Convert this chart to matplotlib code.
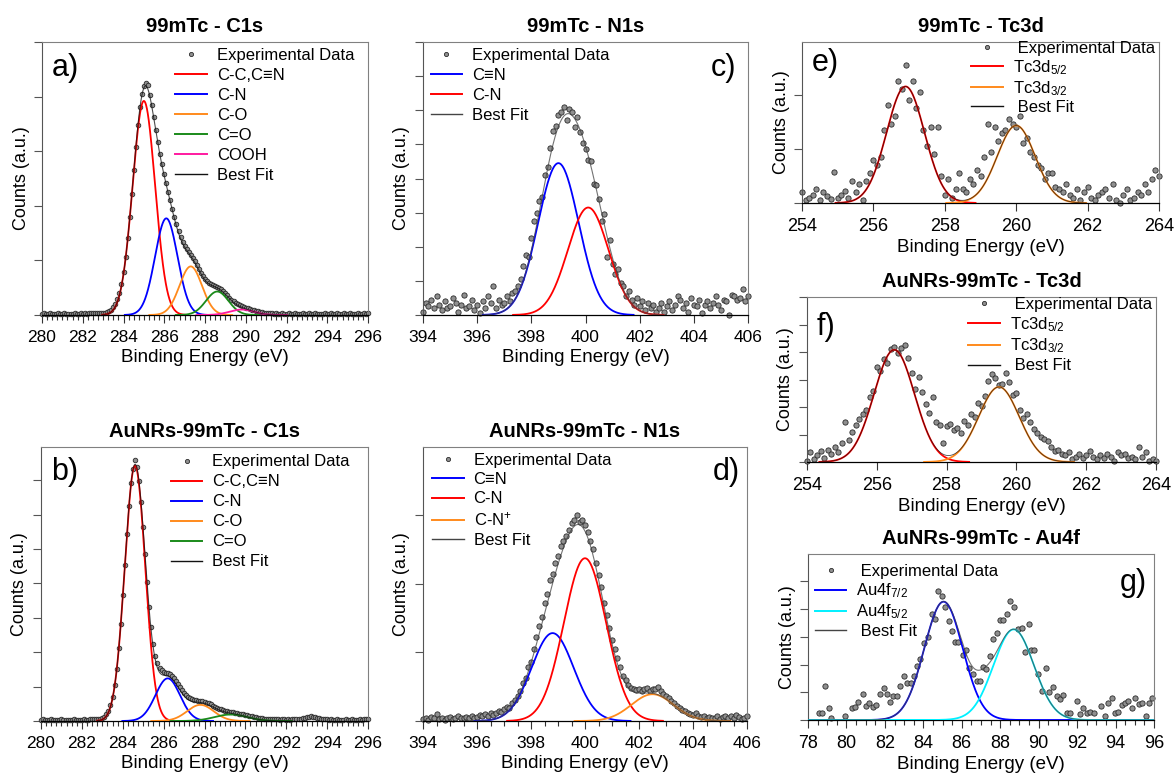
import numpy as np
import matplotlib
matplotlib.use("Agg")
import matplotlib.pyplot as plt
from matplotlib.lines import Line2D
from matplotlib.ticker import MultipleLocator

plt.rcParams['font.family'] = ['Liberation Sans', 'DejaVu Sans']
plt.rcParams['mathtext.fontset'] = 'custom'
plt.rcParams['mathtext.rm'] = 'Liberation Sans'
plt.rcParams['mathtext.it'] = 'Liberation Sans:italic'
plt.rcParams['mathtext.bf'] = 'Liberation Sans:bold'

# ---------------- data (binding energy in eV, counts in a.u.) ----------------
# a) 99mTc - C1s, 0.1 eV steps from 280.0
a_start, a_step = 280.0, 0.1
a_counts = [0.02, 0.03, 0.02, 0.02, 0.03, 0.02, 0.01, 0.02, 0.03, 0.02,
            0.02, 0.03, 0.02, 0.02, 0.01, 0.02, 0.03, 0.02, 0.02, 0.03,
            0.02, 0.03, 0.02, 0.03, 0.04, 0.03, 0.03, 0.04, 0.03,
            0.03, 0.04, 0.04, 0.05, 0.07, 0.10, 0.15, 0.20, 0.29, 0.40, 0.57,
            0.79, 1.07, 1.41, 1.79, 2.21, 2.65, 3.08, 3.48, 3.81, 4.05, 4.19,
            4.24, 4.22, 4.03, 3.84, 3.62, 3.38, 3.16, 2.95, 2.76, 2.58,
            2.41, 2.25, 2.10, 1.94, 1.79, 1.66, 1.53, 1.43, 1.34, 1.27,
            1.20, 1.15, 1.10, 1.04, 0.98, 0.91, 0.84, 0.77, 0.71, 0.66,
            0.62, 0.59, 0.57, 0.55, 0.54, 0.52, 0.50, 0.47, 0.44, 0.40,
            0.36, 0.32, 0.28, 0.25, 0.22, 0.20, 0.18, 0.16, 0.145, 0.13,
            0.12, 0.11, 0.10, 0.09, 0.08, 0.07, 0.06, 0.05, 0.045, 0.04,
            0.03, 0.03, 0.03, 0.02, 0.03, 0.02, 0.02, 0.03, 0.02, 0.02,
            0.03, 0.02, 0.02, 0.03, 0.02, 0.01, 0.02, 0.03, 0.02, 0.02,
            0.03, 0.02, 0.02, 0.03, 0.02, 0.02, 0.01, 0.02, 0.03, 0.02,
            0.02, 0.03, 0.02, 0.02, 0.03, 0.02, 0.02, 0.03, 0.02, 0.02,
            0.03, 0.02, 0.01, 0.02, 0.03, 0.02, 0.02, 0.03, 0.02, 0.03]
a_labels = ["C-C,C\u2261N", "C-N", "C-O", "C=O", "COOH"]
a_centers = [285.0, 286.1, 287.3, 288.6, 289.8]
a_heights = [3.92, 1.77, 0.89, 0.43, 0.10]
a_widths = [0.55, 0.55, 0.55, 0.55, 0.60]

# b) AuNRs-99mTc - C1s
b_start, b_step = 280.0, 0.1
b_counts = [0.04, 0.05, 0.04, 0.03, 0.04, 0.05, 0.04, 0.04, 0.03, 0.04,
            0.05, 0.04, 0.04, 0.03, 0.04, 0.04, 0.05, 0.04, 0.03, 0.04,
            0.04, 0.05, 0.04, 0.04, 0.05, 0.06, 0.05, 0.07,
            0.05, 0.06, 0.09, 0.12, 0.19, 0.29, 0.46, 0.70, 1.04, 1.51,
            2.11, 2.83, 3.66, 4.55, 5.44, 6.25, 6.91, 7.34, 7.58, 7.40,
            6.99, 6.38, 5.65,
            4.85, 4.05, 3.32, 2.72, 2.25, 1.90, 1.68, 1.55, 1.47, 1.43,
            1.41, 1.39, 1.36, 1.31, 1.24, 1.16, 1.07, 0.98, 0.89, 0.81,
            0.75, 0.70, 0.66, 0.63, 0.61, 0.60, 0.59, 0.58, 0.57, 0.55,
            0.53, 0.51, 0.48, 0.45, 0.42, 0.39, 0.36, 0.34, 0.32, 0.30,
            0.29, 0.27, 0.26, 0.25, 0.24, 0.23, 0.21, 0.20, 0.19, 0.18,
            0.17, 0.15, 0.14, 0.13, 0.12, 0.10, 0.09, 0.08, 0.07, 0.07,
            0.06, 0.06, 0.05, 0.06, 0.05, 0.05, 0.04, 0.05, 0.05, 0.04,
            0.05, 0.04, 0.05, 0.06, 0.05, 0.06, 0.07, 0.08, 0.09, 0.11,
            0.12, 0.14, 0.13, 0.12, 0.10, 0.09, 0.07, 0.06, 0.05, 0.05,
            0.04, 0.05, 0.04, 0.04, 0.05, 0.04, 0.03, 0.04, 0.05, 0.04,
            0.04, 0.05, 0.04, 0.03, 0.04, 0.05, 0.04, 0.05, 0.06, 0.05]
b_labels = ["C-C,C\u2261N", "C-N", "C-O", "C=O"]
b_centers = [284.6, 286.2, 287.8, 289.3]
b_heights = [7.43, 1.24, 0.47, 0.19]
b_widths = [0.50, 0.60, 0.65, 0.80]

# c) 99mTc - N1s
c_start, c_step = 394.0, 0.1
c_counts = [0.10, 0.35, 0.25, 0.45, 0.20, 0.55, 0.30, 0.15, 0.40, 0.20,
            0.25, 0.50, 0.35, 0.10, 0.30, 0.60, 0.20, 0.25, 0.45, 0.15,
            0.30, 0.05, 0.40, 0.20, 0.55,
            0.35, 0.85, 0.20, 0.45, 0.30, 0.35, 0.55, 0.40, 0.65, 0.70,
            0.85, 1.05, 1.45, 1.75, 1.70, 2.25, 2.75, 3.00, 3.35, 3.45,
            4.10, 4.35, 4.90, 5.40, 5.55, 5.85, 5.95, 6.10, 5.70, 6.05,
            5.95, 5.50, 5.80, 5.35, 5.05, 4.85, 4.55, 4.50, 3.85, 3.80,
            3.40, 2.75, 2.95, 1.70, 2.20, 1.50, 1.20, 1.35, 0.95, 0.85,
            0.55, 0.70, 0.45, 0.30, 0.50, 0.25, 0.40, 0.15, 0.35, 0.20,
            0.30, 0.10,
            0.20, 0.35, 0.10, 0.25, 0.40, 0.15, 0.30, 0.55, 0.45, 0.20,
            0.35, 0.10, 0.50, 0.30, 0.25, 0.45, 0.05, 0.30, 0.40, 0.20,
            0.35, 0.55, 0.30, 0.15, 0.45, 0.40, 0.00, 0.60, 0.55, 0.45,
            0.50, 0.75, 0.40, 0.55]
c_labels = ["C\u2261N", "C-N"]
c_centers = [399.0, 400.1]
c_heights = [4.45, 3.15]
c_widths = [0.75, 0.75]

# d) AuNRs-99mTc - N1s
d_start, d_step = 394.0, 0.1
d_counts = [0.03, 0.05, 0.02, 0.06, 0.04, 0.10, 0.03, 0.05, 0.02, 0.04,
            0.06, 0.03, 0.05, 0.07, 0.04, 0.05, 0.06, 0.04, 0.08, 0.05,
            0.06, 0.09, 0.07,
            0.10, 0.08, 0.12, 0.09, 0.11, 0.14, 0.13,
            0.17, 0.20, 0.19, 0.26, 0.30, 0.36, 0.43, 0.55, 0.63, 0.78,
            0.86, 1.05, 1.22, 1.38, 1.52, 1.72, 1.85, 2.05, 2.14, 2.30,
            2.40, 2.55, 2.62, 2.70, 2.78, 2.88, 2.92, 3.00, 2.90, 2.92,
            2.85, 2.75, 2.62, 2.50, 2.30, 2.12, 1.95, 1.72, 1.55, 1.36,
            1.18, 1.05, 0.92, 0.78, 0.66, 0.60, 0.52, 0.48, 0.46, 0.45,
            0.47, 0.44, 0.46, 0.48, 0.44, 0.47, 0.46, 0.50, 0.43, 0.40,
            0.36, 0.33, 0.29, 0.26, 0.22, 0.19, 0.16, 0.14, 0.12, 0.10,
            0.09, 0.11, 0.07, 0.06, 0.08, 0.05, 0.06, 0.04,
            0.05, 0.07, 0.03, 0.06, 0.08, 0.05, 0.07, 0.04, 0.09, 0.06,
            0.03, 0.05, 0.07]
d_labels = ["C\u2261N", "C-N", "C-N$^{+}$"]
d_centers = [398.8, 400.0, 402.5]
d_heights = [1.28, 2.37, 0.39]
d_widths = [0.78, 0.78, 0.78]

# e) 99mTc - Tc3d
e_start, e_step = 254.0, 0.1
e_counts = [0.20, 0.05, 0.10, 0.15, 0.25, 0.05, 0.20, 0.12, 0.08, 0.57,
            0.10, 0.15, 0.22,
            0.10, 0.40, 0.20, 0.35, 0.05, 0.40, 0.55,
            0.80, 0.70, 0.85, 1.35, 1.80, 1.45, 1.60, 2.25, 2.10, 2.55,
            1.90, 2.25, 1.75, 2.05, 1.35, 1.05, 1.40, 0.90, 1.40, 0.50,
            0.15, 0.45, 0.10, 0.25, 0.55, 0.25,
            0.20, 0.45, 0.35, 0.60,
            0.50, 0.85, 1.45, 0.95, 1.40, 1.15, 1.30, 1.35, 1.55, 1.45,
            1.40, 1.60, 1.10, 1.20, 0.95, 0.85, 0.70, 0.65, 0.45, 0.55,
            0.55, 0.30, 0.25, 0.20, 0.35, 0.15, 0.10, 0.25, 0.05,
            0.20, 0.30, 0.10, 0.05, 0.15, 0.20, 0.25, 0.10, 0.35, 0.05,
            0.00, 0.15, 0.25, 0.05, 0.10, 0.20, 0.15, 0.35, 0.20, 0.45,
            0.60, 0.50]
e_labels = ["$\\mathregular{Tc3d_{5/2}}$", "$\\mathregular{Tc3d_{3/2}}$"]
e_centers = [256.9, 260.0]
e_heights = [2.15, 1.43]
e_widths = [0.53, 0.53]

# f) AuNRs-99mTc - Tc3d
f_start, f_step = 254.0, 0.1
f_counts = [0.05, 0.35, 0.10, 0.25, 0.40, 0.15, 0.45, 0.30, 0.55, 0.35,
            0.70, 1.45, 0.80, 1.10, 1.35, 1.55, 1.75, 1.90, 2.35, 2.60,
            3.45, 3.30, 3.75, 3.60, 4.10, 4.20, 3.95, 4.15, 4.25, 3.80,
            3.25, 2.65, 3.10, 2.55, 2.10, 1.80, 2.35, 1.45, 1.35, 0.70,
            1.30, 1.40, 1.15, 1.25, 1.05, 1.50, 1.35, 1.75, 1.65, 2.15,
            2.05, 2.40, 2.95, 3.20, 3.05, 2.80, 2.85, 3.25, 2.90, 2.45,
            2.50, 1.90, 1.60, 1.75, 1.45, 1.20, 1.05, 0.90, 0.85, 0.75,
            0.55, 0.40, 0.45, 0.30, 0.25, 0.35, 0.10, 0.20, 0.30, 0.15,
            0.25, 0.40, 0.20, 0.10, 0.25, 0.15, 0.30, 0.20, 0.05, 0.35,
            0.25, 0.30, 0.15, 0.20, 0.10, 0.55, 0.20, 0.35, 0.05, 0.10,
            0.05]
f_labels = e_labels
f_centers = [256.5, 259.5]
f_heights = [4.08, 2.73]
f_widths = [0.58, 0.58]

# g) AuNRs-99mTc - Au4f
g_energy = [78.59, 78.74, 78.90, 79.07, 79.20, 79.95, 80.28, 80.45, 80.62, 80.84,
            81.02, 81.19, 81.37, 81.54, 81.75, 81.94, 82.11, 82.27, 82.44, 82.63,
            82.81, 83.00, 83.17, 83.35, 83.50, 83.68, 83.85, 84.06, 84.23, 84.44,
            84.61, 84.78, 84.96, 85.13, 85.36, 85.50, 85.65, 85.82, 86.05, 86.22,
            86.40, 86.57, 86.77, 86.95, 87.10, 87.26, 87.47, 87.64, 87.83, 88.00,
            88.17, 88.35, 88.52, 88.70, 88.90, 89.11, 89.29, 89.48, 89.60, 89.77,
            89.98, 90.15, 90.38, 90.55, 90.72, 90.93, 91.10, 91.29, 91.47, 91.64,
            91.99, 92.16, 92.33, 92.51, 92.68, 92.89, 93.23, 93.44, 93.61, 93.79,
            93.96, 94.14, 94.31, 94.48, 94.66, 94.83, 95.00, 95.23, 95.40, 95.57,
            95.75, 95.92]
g_counts = [0.26, 0.26, 1.23, 0.45, 0.06, 0.14, 0.42, 0.48, 0.66, 0.95,
            0.50, 0.60, 0.48, 0.53, 0.94, 1.17, 0.93, 0.64, 0.88, 0.88,
            1.24, 1.60, 1.32, 1.32, 1.59, 1.95, 2.19, 2.77, 3.01, 3.82,
            3.65, 4.66, 4.48, 4.07, 3.57, 3.20, 2.82, 2.80, 2.33, 2.53,
            1.89, 1.66, 1.41, 1.39, 1.91, 1.85, 2.32, 2.93, 3.13, 3.61,
            3.61, 3.82, 4.31, 4.07, 3.28, 3.31, 2.47, 3.47, 2.53, 2.53,
            1.65, 1.06, 1.89, 1.00, 1.20, 0.88, 0.76, 0.90, 0.26, 0.24,
            0.69, 0.20, 0.42, 0.24, 0.30, 0.24, 0.52, 0.16, 0.60, 0.78,
            0.26, 0.30, 0.54, 0.60, 0.69, 0.42, 0.78, 0.58, 0.60, 0.16,
            0.62, 0.81]
g_labels = ["$\\mathregular{Au4f_{7/2}}$", "$\\mathregular{Au4f_{5/2}}$"]
g_centers = [85.05, 88.7]
g_heights = [4.27, 3.27]
g_widths = [1.0, 1.05]
g_unlisted = (87.1, 0.30, 0.45)   # small extra term only seen in the best fit

# ---------------- styling ----------------
RED, BLUE, ORANGE, GREEN, PINK, CYAN = "#ff0000", "#0000ff", "#ff8a1c", "#1a8a1a", "#ff1aa0", "#00f0ff"
FACE, EDGE = "#8f8f8f", "#2b2b2b"


def gauss(x, c, h, w):
    return h * np.exp(-0.5 * ((x - c) / w) ** 2)


def series_x(start, step, counts):
    return start + step * np.arange(len(counts))


def draw_panel(ax, xd, yd, labels, centers, heights, widths, colors, fit_color,
               ms, full_span=None, extra=None, exp_label="Experimental Data",
               fit_label="Best Fit", fit_lw=0.8):
    ax.plot(xd, yd, 'o', ms=ms, mfc=FACE, mec=EDGE, mew=0.6, zorder=2, clip_on=False)
    los, his = [], []
    for c, h, w, col in zip(centers, heights, widths, colors):
        lo, hi = (c - 3.7 * w, c + 3.7 * w) if full_span is None else full_span
        xs = np.linspace(lo, hi, 400)
        ax.plot(xs, gauss(xs, c, h, w), color=col, lw=1.3, zorder=3)
        los.append(lo)
        his.append(hi)
    xs = np.linspace(min(los), max(his), 1000)
    fit = sum(gauss(xs, c, h, w) for c, h, w in zip(centers, heights, widths))
    if extra is not None:
        fit = fit + gauss(xs, *extra)
    ax.plot(xs, fit, color=fit_color, lw=fit_lw, alpha=0.75, zorder=4)

    handles = [Line2D([], [], ls='none', marker='o', ms=3, mfc=FACE, mec=EDGE, mew=0.6)]
    handles += [Line2D([], [], color=col, lw=1.4) for col in colors]
    handles.append(Line2D([], [], color=fit_color, lw=1.0))
    names = [exp_label] + list(labels) + [fit_label]
    return handles, names


def style_panel(ax, title, xlim, ylim, xminor, tag, tag_pos, tag_ha, tick_fs,
                handles, names, leg_loc, leg_anchor, leg_spacing):
    ax.set_xlim(*xlim)
    ax.set_ylim(*ylim)
    ax.xaxis.set_major_locator(MultipleLocator(2))
    if xminor:
        ax.xaxis.set_minor_locator(MultipleLocator(xminor))
    ax.yaxis.set_major_locator(MultipleLocator(1))
    ax.tick_params(axis='y', which='both', labelleft=False, direction='out',
                   length=6, width=0.8, color='#555555')
    ax.tick_params(axis='x', which='major', direction='out', length=6, width=0.8,
                   labelsize=tick_fs, pad=5, color='#333333')
    ax.tick_params(axis='x', which='minor', direction='out', length=3.5, width=0.8,
                   color='#333333')
    for side in ('top', 'right'):
        ax.spines[side].set_color('#808080')
        ax.spines[side].set_linewidth(0.8)
    ax.spines['left'].set_color('#555555')
    ax.spines['left'].set_linewidth(0.8)
    ax.spines['bottom'].set_color('#000000')
    ax.spines['bottom'].set_linewidth(0.9)
    ax.set_title(title, fontsize=14.5, fontweight='bold', pad=7)
    ax.set_xlabel("Binding Energy (eV)", fontsize=13.5, labelpad=3)
    ax.set_ylabel("Counts (a.u.)", fontsize=13, labelpad=3)
    ax.text(tag_pos[0], tag_pos[1], tag, transform=ax.transAxes, fontsize=22,
            ha=tag_ha, va='center')
    ax.legend(handles, names, loc=leg_loc, bbox_to_anchor=leg_anchor,
              frameon=False, fontsize=12, handlelength=1.9, handletextpad=0.6,
              labelspacing=leg_spacing, borderpad=0.2, borderaxespad=0)


fig = plt.figure(figsize=(11.74, 7.76), dpi=100)
W, H = 1174.0, 776.0


def add_axes(left, top, right, bottom):
    return fig.add_axes([left / W, 1 - bottom / H, (right - left) / W, (bottom - top) / H])


# a)
ax = add_axes(42, 42, 368, 315)
h, n = draw_panel(ax, series_x(a_start, a_step, a_counts), a_counts, a_labels,
                  a_centers, a_heights, a_widths, [RED, BLUE, ORANGE, GREEN, PINK],
                  "#111111", ms=3.3)
style_panel(ax, "99mTc - C1s", (280, 296), (0, 5.0), 0.25, "a)", (0.03, 0.905), 'left',
            12.5, h, n, 'upper right', (0.968, 0.99), 0.3)

# b)
ax = add_axes(41, 447, 368, 721)
h, n = draw_panel(ax, series_x(b_start, b_step, b_counts), b_counts, b_labels,
                  b_centers, b_heights, b_widths, [RED, BLUE, ORANGE, GREEN],
                  "#111111", ms=3.3)
style_panel(ax, "AuNRs-99mTc - C1s", (280, 296), (0, 7.97), 0.25, "b)", (0.03, 0.91), 'left',
            12.5, h, n, 'upper right', (0.955, 0.985), 0.3)

# c)
ax = add_axes(423, 42, 748, 315)
h, n = draw_panel(ax, series_x(c_start, c_step, c_counts), c_counts, c_labels,
                  c_centers, c_heights, c_widths, [BLUE, RED], "#444444", ms=3.8)
style_panel(ax, "99mTc - N1s", (394, 406), (0, 8.0), None, "c)", (0.965, 0.905), 'right',
            12.5, h, n, 'upper left', (0.013, 0.99), 0.3)

# d)
ax = add_axes(423, 447, 747, 721)
h, n = draw_panel(ax, series_x(d_start, d_step, d_counts), d_counts, d_labels,
                  d_centers, d_heights, d_widths, [BLUE, RED, ORANGE], "#444444", ms=3.8)
style_panel(ax, "AuNRs-99mTc - N1s", (394, 406), (0, 3.99), 0.5, "d)", (0.978, 0.91), 'right',
            12.5, h, n, 'upper left', (0.017, 0.99), 0.25)

# e)
ax = add_axes(802, 42, 1159, 203)
h, n = draw_panel(ax, series_x(e_start, e_step, e_counts), e_counts, e_labels,
                  e_centers, e_heights, e_widths, [RED, ORANGE], "#111111", ms=3.8,
                  exp_label=" Experimental Data", fit_label=" Best Fit", fit_lw=0.6)
style_panel(ax, "99mTc - Tc3d", (254, 264), (0, 2.97), None, "e)", (0.028, 0.87), 'left',
            13, h, n, 'upper right', (0.998, 1.025), 0.12)

# f)
ax = add_axes(807, 297, 1156, 462)
h, n = draw_panel(ax, series_x(f_start, f_step, f_counts), f_counts, f_labels,
                  f_centers, f_heights, f_widths, [RED, ORANGE], "#111111", ms=3.8,
                  exp_label=" Experimental Data", fit_label=" Best Fit", fit_lw=0.6)
style_panel(ax, "AuNRs-99mTc - Tc3d", (254, 264), (0, 6.0), None, "f)", (0.029, 0.82), 'left',
            13, h, n, 'upper right', (0.998, 1.02), 0.18)

# g)
ax = add_axes(808, 554, 1154, 720)
h, n = draw_panel(ax, g_energy, g_counts, g_labels, g_centers, g_heights, g_widths,
                  [BLUE, CYAN], "#444444", ms=3.8, full_span=(78.0, 96.0),
                  extra=g_unlisted, exp_label=" Experimental Data", fit_label=" Best Fit")
style_panel(ax, "AuNRs-99mTc - Au4f", (78, 96), (0, 5.99), 0.5, "g)", (0.98, 0.825), 'right',
            13, h, n, 'upper left', (0.010, 0.96), 0.15)

fig.savefig("out.png", dpi=100)
